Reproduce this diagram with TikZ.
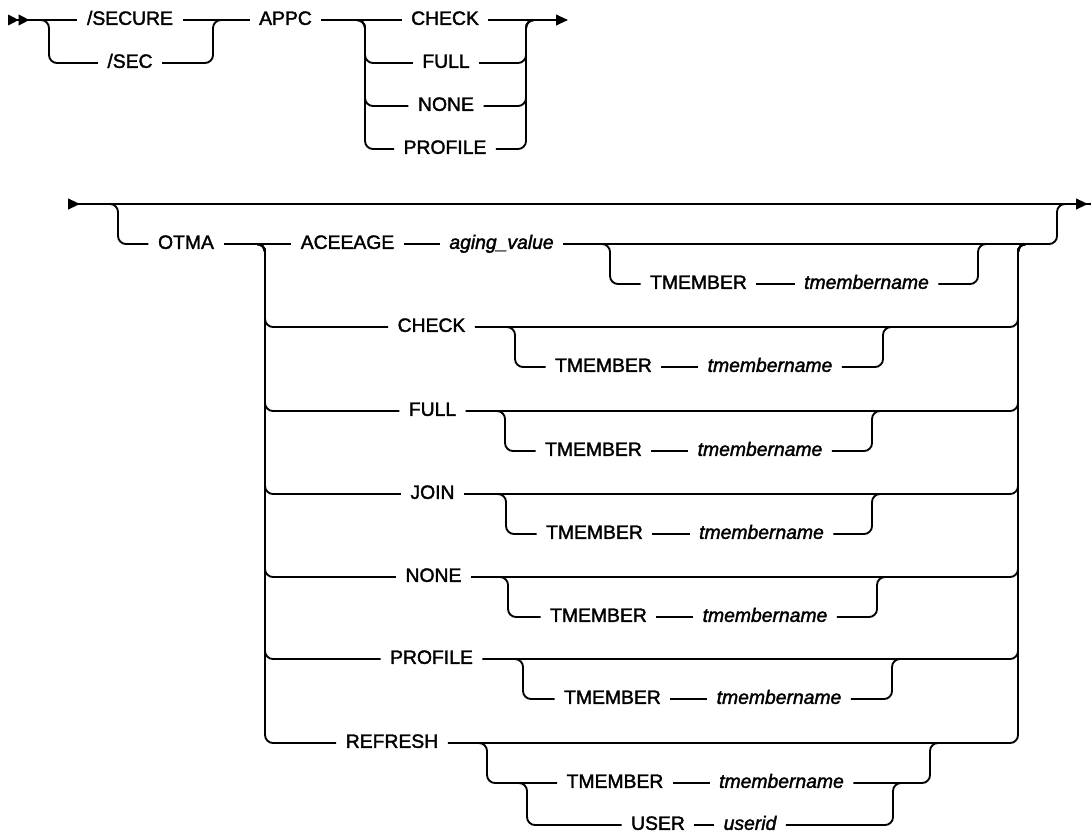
\documentclass[tikz,border=0pt]{standalone}
\usepackage{fontspec}
\setmainfont{Liberation Sans}[FakeBold=1.8]
\usetikzlibrary{arrows.meta,calc}

\begin{document}
\begin{tikzpicture}[x=0.75pt,y=-0.75pt,line width=1.4pt,
        font=\fontsize{14.5}{17}\selectfont,
        kw/.style={inner xsep=6.5pt,inner ysep=0pt,text height=1.38ex,text depth=0pt},
        var/.style={kw,font=\fontsize{14.5}{17}\selectfont\itshape},
        rr/.style={rounded corners=6pt},
        tri/.tip={Triangle[length=9pt,width=8pt]},
        rtri/.tip={Triangle[reversed,length=9pt,width=8pt]},
        dtri/.tip={Triangle[reversed,length=8pt,width=8pt]}]
        \useasboundingbox (0,0) rectangle (1091,836);
        % first line
        \coordinate (st1) at (8,20);
        \coordinate (sp1) at (40,20);
        \coordinate (mg1) at (213,20);
        \coordinate (sp2) at (357,20);
        \coordinate (mg2) at (526,20);
        \coordinate (en1) at (568,20);
        \node[kw](secure) at (130,20){/SECURE};
        \node[kw](sec) at (130,63){/SEC};
        \node[kw](appc) at (285.5,20){APPC};
        \node[kw](chk1) at (445,20){CHECK};
        \node[kw](full1) at (446,63){FULL};
        \node[kw](none1) at (446,106){NONE};
        \node[kw](prof1) at (445,149){PROFILE};
        \draw[{dtri[]dtri[]}-] (st1) -- (secure);
        \draw (secure) -- (appc);
        \draw[rr] (sp1) -- ++(9,0) |- (sec);
        \draw[rr] (sec) -| (mg1) -- ++(10,0);
        \draw (appc) -- (chk1);
        \foreach \k in {full1,none1,prof1}
          {\draw[rr] (sp2) -- ++(8,0) |- (\k);\draw[rr] (\k) -| (mg2) -- ++(9,0);}
        \draw[-{tri[]}] (chk1) -- (en1);
        % second line
        \coordinate (st2) at (68,204);
        \coordinate (sp3) at (110,204);
        \coordinate (mg3) at (1057,204);
        \coordinate (en2) at (1100,204);
        \coordinate (lb) at (255,244);
        \coordinate (rb) at (1018,244);
        \draw[{rtri[]}-{tri[]rtri[]}] (st2) -- (en2);
        \node[kw](otma) at (186,244){OTMA};
        \draw[rr] (sp3) -- ++(8,0) |- (otma);
        \node[kw](acee) at (347.5,244){ACEEAGE};
        \node[var](aging) at (501.5,244){aging\_value};
        \node[kw](tmA) at (698.5,284){TMEMBER};
        \node[var](tnA) at (866.5,284){tmembername};
        \coordinate (spA) at (602,244);
        \coordinate (mgA) at (978,244);
        \draw (otma) -- (acee);
        \draw (acee) -- (aging);
        \draw[rr] (aging) -| (mg3) -- ++(10,0);
        \draw[rr] (spA) -- ++(8,0) |- (tmA);
        \draw (tmA) -- (tnA);
        \draw[rr] (tnA) -| (mgA) -- ++(9,0);
        \foreach \w/\t/\y/\kx/\sx/\tx/\nx/\ex in
          {C/CHECK/327/431.5/507/603.5/770/883,
           F/FULL/411/432.5/497/593.5/760/872,
           J/JOIN/494/432.5/498/594.5/761.5/872,
           N/NONE/577/433.5/500/598.5/765/877,
           P/PROFILE/659/431.5/515/612.5/779/892}
          {\node[kw](kw\w) at (\kx,\y){\t};
           \node[kw](tm\w) at (\tx,\y+40){TMEMBER};
           \node[var](tn\w) at (\nx,\y+40){tmembername};
           \coordinate (sp\w) at (\sx,\y);
           \coordinate (mg\w) at (\ex,\y);
           \draw[rr] (lb) -- ++(10,0) |- (kw\w);
           \draw[rr] (kw\w) -| (rb) -- ++(10,0);
           \draw[rr] (sp\w) -- ++(8,0) |- (tm\w);
           \draw (tm\w) -- (tn\w);
           \draw[rr] (tn\w) -| (mg\w) -- ++(9,0);}
        \node[kw](refr) at (392,743){REFRESH};
        \node[kw](tmR) at (615,783){TMEMBER};
        \node[var](tnR) at (781.5,783){tmembername};
        \node[kw](user) at (658,825){USER};
        \node[var](uid) at (750,825){userid};
        \coordinate (spR) at (479,743);
        \coordinate (mgR) at (930,743);
        \coordinate (spU) at (519,783);
        \coordinate (mgU) at (893,783);
        \draw[rr] (lb) -- ++(10,0) |- (refr);
        \draw[rr] (refr) -| (rb) -- ++(10,0);
        \draw[rr] (spR) -- ++(8,0) |- (tmR);
        \draw (tmR) -- (tnR);
        \draw[rr] (tnR) -| (mgR) -- ++(9,0);
        \draw[rr] (spU) -- ++(8,0) |- (user);
        \draw (user) -- (uid);
        \draw[rr] (uid) -| (mgU) -- ++(9,0);
      \end{tikzpicture}
\end{document}
